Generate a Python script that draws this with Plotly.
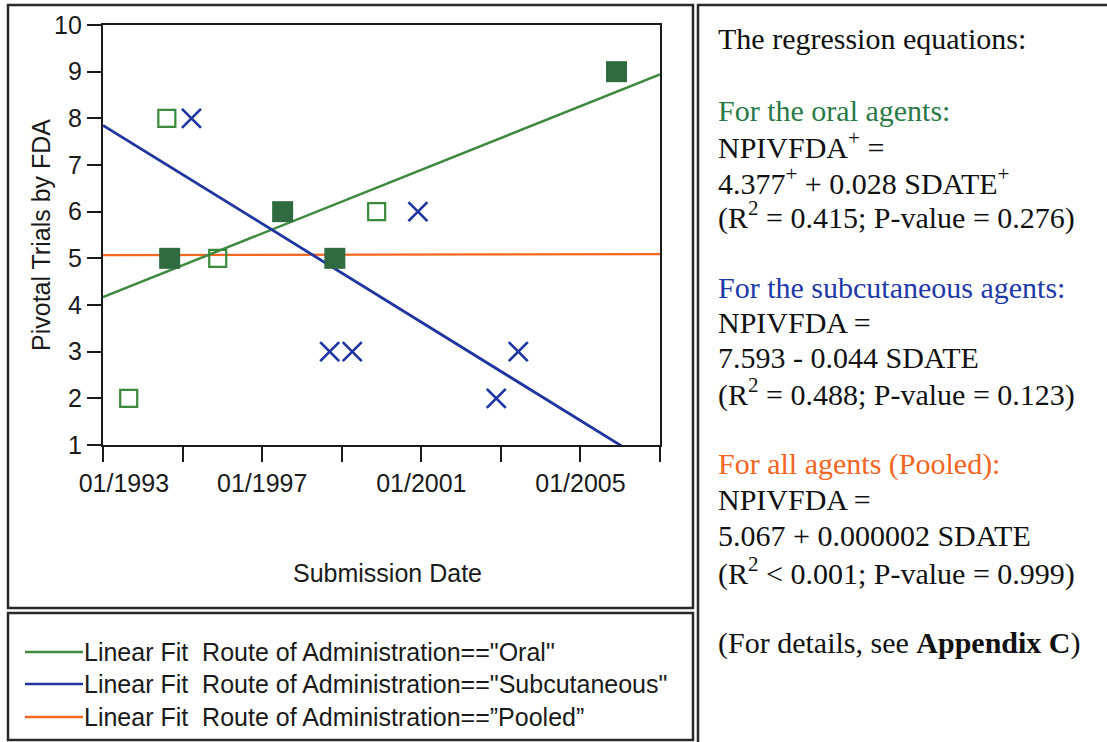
import plotly.graph_objects as go

W, H = 1107, 742

# ---------------- data ----------------
oral_filled_dates = ["1994-09-05", "1997-07-08", "1998-10-30", "2005-11-28"]
oral_filled_vals = [5, 6, 5, 9]

oral_open_dates = ["1993-08-25", "1994-08-10", "1995-11-20", "1999-11-18"]
oral_open_vals = [2, 8, 5, 6]

subcut_dates = ["1995-03-24", "1998-09-13", "1999-04-08", "2000-12-01", "2002-11-20", "2003-06-10"]
subcut_vals = [8, 3, 3, 6, 2, 3]

fit_dates = ["1993-01-01", "2007-01-01"]
oral_fit = [4.17, 8.94]
subcut_fit = [7.85, 0.47]
pooled_fit = [5.07, 5.09]

x_tick_vals = ["1993-01-01", "1995-01-01", "1997-01-01", "1999-01-01",
               "2001-01-01", "2003-01-01", "2005-01-01", "2007-01-01"]
x_tick_text = ["\u2007\u2007\u200701/1993", "", "01/1997", "", "01/2001", "", "01/2005", ""]
y_tick_vals = [1, 2, 3, 4, 5, 6, 7, 8, 9, 10]

legend_labels = [
    'Linear Fit\u00a0 Route of Administration=="Oral"',
    'Linear Fit\u00a0 Route of Administration=="Subcutaneous"',
    'Linear Fit\u00a0 Route of Administration==\u201dPooled\u201d',
]

GREEN_LINE = "#3d8a3f"
GREEN_FILL = "#2f6a40"
GREEN_OPEN = "#3a8a3c"
BLUE = "#1f36a0"
ORANGE = "#f8661f"
GREEN_TXT = "#2a7a48"
BLUE_TXT = "#1f3aa8"
ORANGE_TXT = "#f26522"

panel_lines = [
    ("The regression equations:", "#111111", 38),
    ("For the oral agents:", GREEN_TXT, 110),
    ("NPIVFDA<sup>+</sup> =", "#111111", 145),
    ("4.377<sup>+</sup> + 0.028 SDATE<sup>+</sup>", "#111111", 181),
    ("(R<sup>2</sup> = 0.415; P-value = 0.276)", "#111111", 216),
    ("For the subcutaneous agents:", BLUE_TXT, 287),
    ("NPIVFDA =", "#111111", 322),
    ("7.593 - 0.044 SDATE", "#111111", 357),
    ("(R<sup>2</sup> = 0.488; P-value = 0.123)", "#111111", 392),
    ("For all agents (Pooled):", ORANGE_TXT, 464),
    ("NPIVFDA =", "#111111", 499),
    ("5.067 + 0.000002 SDATE", "#111111", 535),
    ("(R<sup>2</sup> &lt; 0.001; P-value = 0.999)", "#111111", 571),
    ("(For details, see <b>Appendix C</b>)", "#111111", 643),
]

# ---------------- helpers ----------------
def px(x):
    return x / W

def py(y):
    return 1 - y / H

SANS = "Liberation Sans, Arial, sans-serif"
SERIF = "Liberation Serif, Times New Roman, serif"

fig = go.Figure()

# fit lines
fig.add_trace(go.Scatter(x=fit_dates, y=pooled_fit, mode="lines",
                         line=dict(color=ORANGE, width=2.2), showlegend=False))
fig.add_trace(go.Scatter(x=fit_dates, y=oral_fit, mode="lines",
                         line=dict(color=GREEN_LINE, width=2.5), showlegend=False))
fig.add_trace(go.Scatter(x=fit_dates, y=subcut_fit, mode="lines",
                         line=dict(color=BLUE, width=2.8), showlegend=False))

# points
fig.add_trace(go.Scatter(x=oral_filled_dates, y=oral_filled_vals, mode="markers",
                         marker=dict(symbol="square", size=21, color=GREEN_FILL,
                                     line=dict(width=0)), showlegend=False))
fig.add_trace(go.Scatter(x=oral_open_dates, y=oral_open_vals, mode="markers",
                         marker=dict(symbol="square-open", size=17, color=GREEN_OPEN,
                                     line=dict(width=2.2)), showlegend=False))
fig.add_trace(go.Scatter(x=subcut_dates, y=subcut_vals, mode="markers",
                         marker=dict(symbol="x-thin", size=19, color=BLUE,
                                     line=dict(width=2.7, color=BLUE)), showlegend=False))

# ---------------- layout ----------------
x0, x1, y0, y1 = 103, 660, 25, 445
fig.update_layout(
    template="none",
    width=W, height=H,
    margin=dict(l=0, r=0, t=0, b=0, autoexpand=False),
    paper_bgcolor="white", plot_bgcolor="white",
    font=dict(family=SANS, size=25, color="#1a1a1a"),
    showlegend=False,
    xaxis=dict(
        type="date", domain=[px(x0), px(x1)], automargin=False,
        range=["1993-01-01", "2007-01-01"],
        tickmode="array", tickvals=x_tick_vals, ticktext=x_tick_text,
        ticks="outside", ticklen=15, tickwidth=2.2, tickcolor="#1a1a1a",
        showline=True, linecolor="#1a1a1a", linewidth=2.2, mirror=True,
        showgrid=False, zeroline=False,
        tickfont=dict(family=SANS, size=25, color="#1a1a1a"),
    ),
    yaxis=dict(
        domain=[py(y1), py(y0)], automargin=False,
        range=[1, 10],
        tickmode="array", tickvals=y_tick_vals,
        ticks="outside", ticklen=14, tickwidth=2.2, tickcolor="#1a1a1a",
        showline=True, linecolor="#1a1a1a", linewidth=2.2, mirror=True,
        showgrid=False, zeroline=False,
        tickfont=dict(family=SANS, size=25, color="#1a1a1a"),
    ),
)

shapes = []
# outer boxes
for (a, b, c, d) in [(8, 5, 693, 608), (8, 613, 693, 740), (698, 5, 1110, 745)]:
    shapes.append(dict(type="rect", xref="paper", yref="paper",
                       x0=px(a), x1=px(c), y0=py(d), y1=py(b),
                       line=dict(color="#2a2a2a", width=2.5), fillcolor="rgba(0,0,0,0)",
                       layer="above"))

annotations = []
# axis titles
annotations.append(dict(x=px(387), y=py(573), xref="paper", yref="paper",
                        text="Submission Date", showarrow=False,
                        font=dict(family=SANS, size=25, color="#1a1a1a"),
                        xanchor="center", yanchor="middle"))
annotations.append(dict(x=px(41), y=py(235), xref="paper", yref="paper",
                        text="Pivotal Trials by FDA", showarrow=False, textangle=-90,
                        font=dict(family=SANS, size=25, color="#1a1a1a"),
                        xanchor="center", yanchor="middle"))

# legend
legend_colors = [GREEN_LINE, BLUE, ORANGE]
legend_rows = [652, 684, 717]
for lab, col, yy in zip(legend_labels, legend_colors, legend_rows):
    shapes.append(dict(type="line", xref="paper", yref="paper",
                       x0=px(25), x1=px(83), y0=py(yy), y1=py(yy),
                       line=dict(color=col, width=2.5)))
    annotations.append(dict(x=px(82), y=py(yy), xref="paper", yref="paper",
                            text=lab, showarrow=False, xanchor="left", yanchor="middle",
                            font=dict(family=SANS, size=25, color="#1a1a1a")))

# regression text panel
for txt, col, yy in panel_lines:
    annotations.append(dict(x=px(716), y=py(yy), xref="paper", yref="paper",
                            text=txt, showarrow=False, xanchor="left", yanchor="middle",
                            font=dict(family=SERIF, size=30, color=col)))

fig.update_layout(shapes=shapes, annotations=annotations)

fig.write_html("out.html")
